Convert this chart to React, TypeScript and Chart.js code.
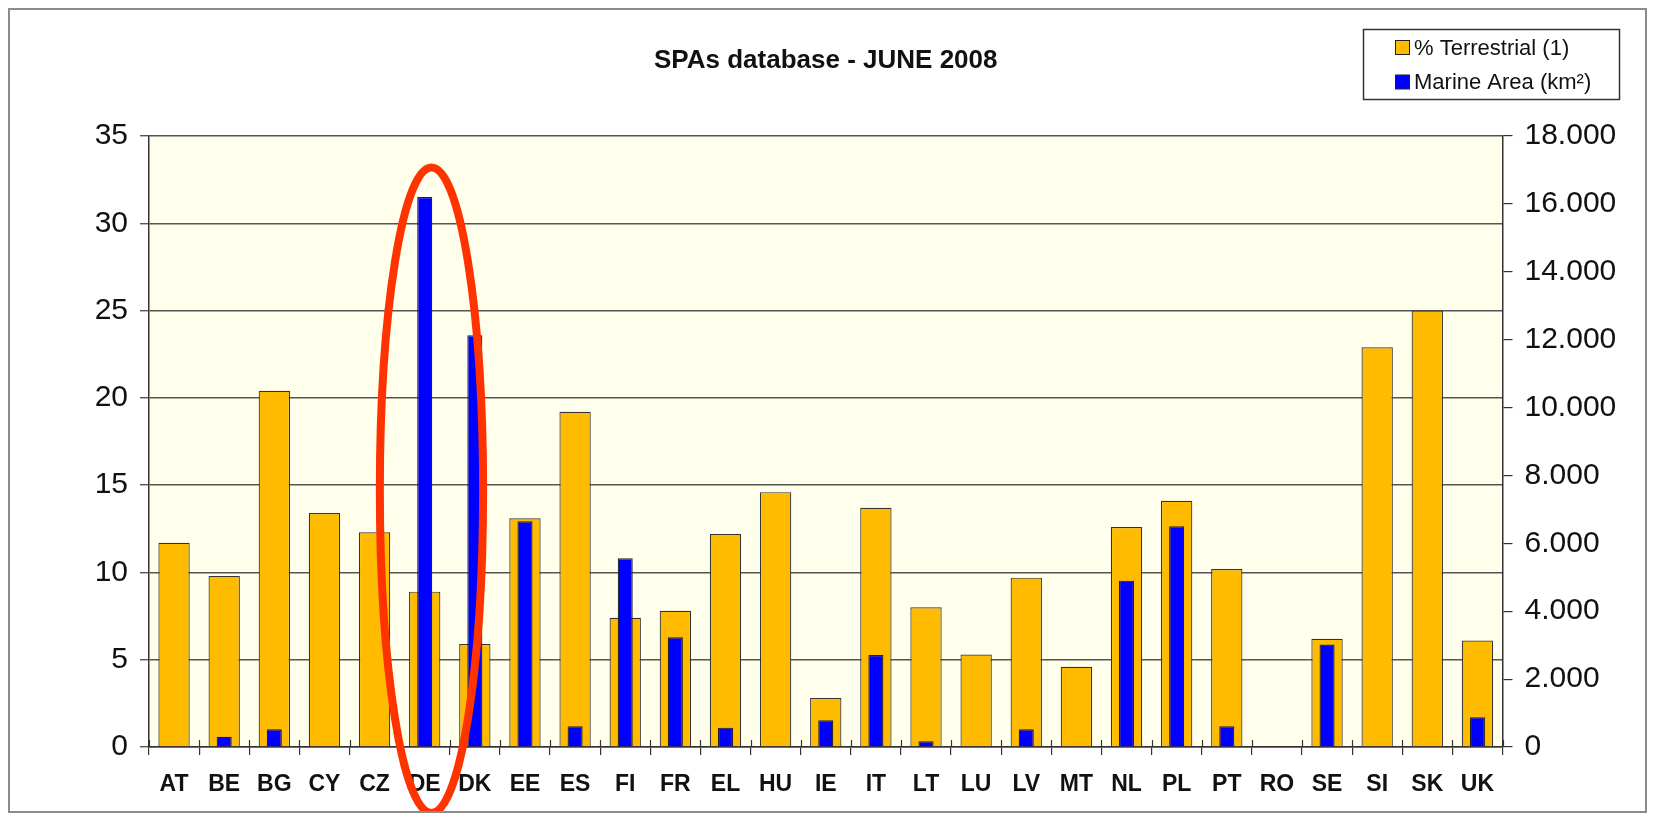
import React, { useEffect, useRef } from 'react';
import { Chart, registerables } from 'chart.js';

Chart.register(...registerables);

const categories = ['AT', 'BE', 'BG', 'CY', 'CZ', 'DE', 'DK', 'EE', 'ES', 'FI', 'FR', 'EL', 'HU', 'IE', 'IT', 'LT', 'LU', 'LV', 'MT', 'NL', 'PL', 'PT', 'RO', 'SE', 'SI', 'SK', 'UK'];
const terrestrialPct = [11.7, 9.8, 20.4, 13.4, 12.3, 8.9, 5.9, 13.1, 19.2, 7.4, 7.8, 12.2, 14.6, 2.8, 13.7, 8.0, 5.3, 9.7, 4.6, 12.6, 14.1, 10.2, null, 6.2, 22.9, 25.0, 6.1];
const marineAreaKm2 = [null, 300, 525, null, null, 16200, 12130, 6650, 610, 5560, 3230, 570, null, 790, 2710, 170, null, 525, null, 4900, 6500, 610, null, 3020, null, null, 880];
const seriesLabels = ['% Terrestrial (1)', 'Marine Area (km²)'];
const chartTitle = 'SPAs database - JUNE 2008';
const leftAxis = { min: 0, max: 35, step: 5 };
const rightAxis = { min: 0, max: 18000, step: 2000 };
const highlighted = ['DE', 'DK'];

const ORANGE = '#FFBB00';
const BLUE = '#0000FF';
const FONT = '"Liberation Sans", Arial, Helvetica, sans-serif';

const fmtThousands = (v: number) => String(v).replace(/\B(?=(\d{3})+(?!\d))/g, '.');

const backgroundPlugin = {
  id: 'bgPlugin',
  beforeDraw(chart: any) {
    const { ctx, chartArea } = chart;
    ctx.save();
    ctx.fillStyle = '#FFFFFF';
    ctx.fillRect(0, 0, chart.width, chart.height);
    ctx.fillStyle = '#FFFFEB';
    ctx.fillRect(chartArea.left, chartArea.top, chartArea.right - chartArea.left, chartArea.bottom - chartArea.top);
    ctx.restore();
  },
};

const overlayPlugin = {
  id: 'overlayPlugin',
  afterDraw(chart: any) {
    const { ctx, chartArea } = chart;
    const xs = chart.scales.x;
    const yl = chart.scales.y;
    ctx.save();

    // upper half of the crossing tick marks on the category axis
    const step = xs.getPixelForValue(1) - xs.getPixelForValue(0);
    ctx.strokeStyle = '#333';
    ctx.lineWidth = 1.2;
    for (let i = 0; i <= categories.length; i++) {
      const x = Math.round(xs.getPixelForValue(0) - step / 2 + i * step) + 0.5;
      ctx.beginPath();
      ctx.moveTo(x, chartArea.bottom - 7);
      ctx.lineTo(x, chartArea.bottom);
      ctx.stroke();
    }

    // title
    ctx.fillStyle = '#111';
    ctx.font = `bold 26px ${FONT}`;
    ctx.textAlign = 'center';
    ctx.textBaseline = 'middle';
    ctx.fillText(chartTitle, (chartArea.left + chartArea.right) / 2, 51);

    // legend
    const lx = 1353.5, ly = 19.5, lw = 256, lh = 70;
    ctx.fillStyle = '#FFFFFF';
    ctx.fillRect(lx, ly, lw, lh);
    ctx.strokeStyle = '#333';
    ctx.lineWidth = 1.5;
    ctx.strokeRect(lx, ly, lw, lh);
    const colors = [ORANGE, BLUE];
    const rows = [37.5, 72];
    ctx.font = `22px ${FONT}`;
    ctx.textAlign = 'left';
    seriesLabels.forEach((lab, i) => {
      ctx.fillStyle = colors[i];
      ctx.fillRect(1385.5, rows[i] - 7, 14, 14);
      ctx.strokeStyle = '#222';
      ctx.lineWidth = 1;
      ctx.strokeRect(1385.5, rows[i] - 7, 14, 14);
      ctx.fillStyle = '#111';
      ctx.fillText(lab, 1404, rows[i] + 1);
    });

    // highlight ellipse around DE / DK
    const i0 = categories.indexOf(highlighted[0]);
    const cx = xs.getPixelForValue(i0) + step * 0.135;
    const top = yl.getPixelForValue(33.2);
    const bottom = chart.height + 2;
    const cy = (top + bottom) / 2;
    ctx.beginPath();
    ctx.ellipse(cx, cy, step * 1.03, (bottom - top) / 2, 0, 0, Math.PI * 2);
    ctx.strokeStyle = '#FF3300';
    ctx.lineWidth = 8;
    ctx.stroke();
    ctx.restore();
  },
};

export default function App() {
  const canvasRef = useRef<HTMLCanvasElement | null>(null);

  useEffect(() => {
    if (!canvasRef.current) return;
    const chart = new Chart(canvasRef.current, {
      type: 'bar',
      data: {
        labels: categories,
        datasets: [
          {
            label: seriesLabels[0],
            data: terrestrialPct as any,
            yAxisID: 'y',
            backgroundColor: ORANGE,
            borderColor: '#333',
            borderWidth: 1.2,
            grouped: false,
            categoryPercentage: 1,
            barPercentage: 0.625,
            order: 2,
          } as any,
          {
            label: seriesLabels[1],
            data: marineAreaKm2 as any,
            yAxisID: 'y2',
            backgroundColor: BLUE,
            borderColor: '#222',
            borderWidth: 1.2,
            grouped: false,
            categoryPercentage: 1,
            barPercentage: 0.3,
            order: 1,
          } as any,
        ],
      },
      options: {
        responsive: false,
        animation: false,
        devicePixelRatio: 1,
        layout: { padding: { top: 126, left: 0, right: 0, bottom: 0 } },
        plugins: {
          legend: { display: false },
          title: { display: false },
          tooltip: { enabled: false },
        },
        scales: {
          x: {
            type: 'category',
            offset: true,
            grid: {
              display: true,
              offset: true,
              drawOnChartArea: false,
              drawTicks: true,
              tickLength: 8,
              color: '#333',
              lineWidth: 1.2,
            },
            border: { display: true, color: '#333', width: 1.5 },
            ticks: {
              autoSkip: false,
              maxRotation: 0,
              color: '#111',
              padding: 16,
              font: { family: FONT, size: 23, weight: 'bold' },
            },
            afterFit: (s: any) => { s.height = 64; },
          },
          y: {
            position: 'left',
            min: leftAxis.min,
            max: leftAxis.max,
            ticks: {
              stepSize: leftAxis.step,
              color: '#111',
              padding: 12,
              font: { family: FONT, size: 30 },
            },
            grid: { color: '#555', lineWidth: 1.4, tickLength: 9, drawTicks: true },
            border: { display: true, color: '#333', width: 1.5 },
            afterFit: (s: any) => { s.width = 139; },
          },
          y2: {
            position: 'right',
            min: rightAxis.min,
            max: rightAxis.max,
            ticks: {
              stepSize: rightAxis.step,
              color: '#111',
              padding: 12,
              font: { family: FONT, size: 30 },
              callback: (v: any) => fmtThousands(Number(v)),
            },
            grid: { drawOnChartArea: false, color: '#333', lineWidth: 1.2, tickLength: 10, drawTicks: true },
            border: { display: true, color: '#333', width: 1.5 },
            afterFit: (s: any) => { s.width = 142.5; },
          },
        },
      } as any,
      plugins: [backgroundPlugin, overlayPlugin],
    });
    return () => chart.destroy();
  }, []);

  return (
    <div
      style={{
        position: 'absolute',
        left: 8,
        top: 8,
        width: 1639,
        height: 805,
        boxSizing: 'border-box',
        border: '2px solid #8c8c8c',
        background: '#fff',
        overflow: 'hidden',
      }}
    >
      <canvas ref={canvasRef} width={1635} height={801} style={{ display: 'block' }} />
    </div>
  );
}
